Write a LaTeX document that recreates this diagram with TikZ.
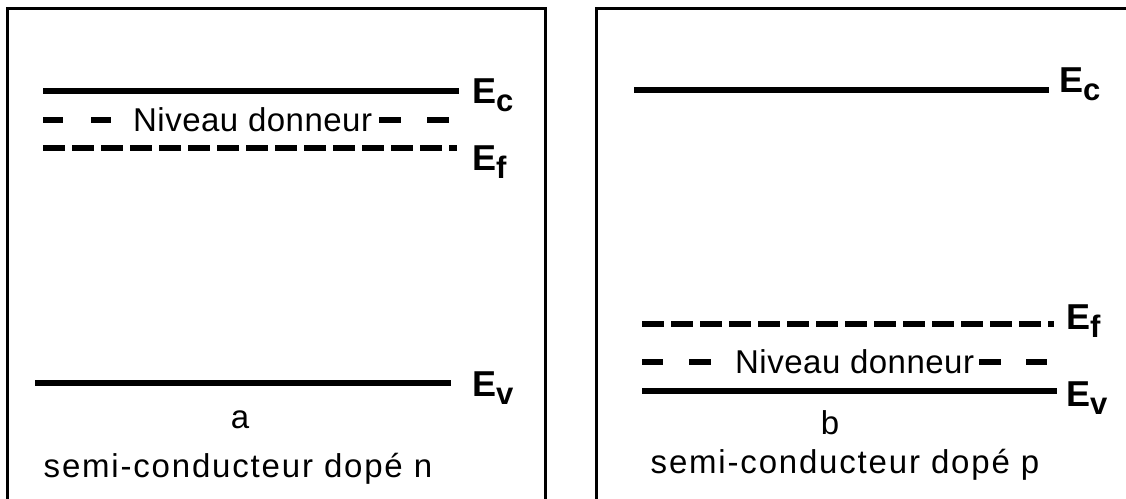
\documentclass[tikz,border=0pt]{standalone}
\usepackage{fontspec}
\setmainfont{Liberation Sans}
\newcommand\elev[1]{E\raisebox{-8pt}{\fontsize{31}{34}\selectfont #1}}
\begin{document}
\begin{tikzpicture}[x=1pt,y=-1pt,
  frame/.style={line width=3pt},
  band/.style={line width=5.5pt},
  fermi/.style={line width=5.5pt, dash pattern=on 21.5pt off 7.5pt},
  lbl/.style={anchor=base west, inner sep=0pt, font=\fontsize{36}{40}\selectfont\bfseries},
  txt/.style={inner sep=0pt, font=\fontsize{33}{38}\selectfont\addfontfeature{LetterSpace=1.5}},
  title/.style={inner sep=0pt, anchor=base, font=\fontsize{33}{38}\selectfont\addfontfeature{LetterSpace=5.5}},
]
\useasboundingbox (0,0) rectangle (1126,498);
\clip (0,0) rectangle (1126,498);

% panel frames (open at the bottom / right edge of the page)
\draw[frame] (7,8) rectangle (545,530);
\draw[frame] (596,8) rectangle (1150,530);

% ---- (a) n-type ----
\coordinate (ac1) at (43,91);   \coordinate (ac2) at (459,91);
\coordinate (af1) at (43,148);  \coordinate (af2) at (457,148);
\coordinate (av1) at (35,383);  \coordinate (av2) at (451,383);
\draw[band] (ac1) -- (ac2);
\draw[fermi] (af1) -- (af2);
\draw[band] (av1) -- (av2);
\draw[band] (43,120) -- (63,120);
\draw[band] (91,120) -- (111,120);
\draw[band] (379,120) -- (401,120);
\draw[band] (427,120) -- (449,120);
\node[txt, anchor=base west] (adon) at (133,131) {Niveau donneur};
\node[lbl] (aEc) at (472,103) {\elev{c}};
\node[lbl] (aEf) at (472,170) {\elev{f}};
\node[lbl] (aEv) at (472,396) {\elev{v}};
\node[txt, anchor=base] (aname) at (240,428) {a};
\node[title] (atitle) at (238,477) {semi-conducteur dopé n};

% ---- (b) p-type ----
\coordinate (bc1) at (634,90);  \coordinate (bc2) at (1049,90);
\coordinate (bf1) at (642,324); \coordinate (bf2) at (1054,324);
\coordinate (bv1) at (642,391); \coordinate (bv2) at (1057,391);
\draw[band] (bc1) -- (bc2);
\draw[fermi] (bf1) -- (bf2);
\draw[band] (bv1) -- (bv2);
\draw[band] (642,362) -- (663,362);
\draw[band] (689,362) -- (711,362);
\draw[band] (979,362) -- (1001,362);
\draw[band] (1026,362) -- (1047,362);
\node[txt, anchor=base west] (bdon) at (735,373) {Niveau donneur};
\node[lbl] (bEc) at (1059,92) {\elev{c}};
\node[lbl] (bEf) at (1066,329) {\elev{f}};
\node[lbl] (bEv) at (1066,406) {\elev{v}};
\node[txt, anchor=base] (bname) at (830,434) {b};
\node[title] (btitle) at (845,473) {semi-conducteur dopé p};
\end{tikzpicture}
\end{document}
